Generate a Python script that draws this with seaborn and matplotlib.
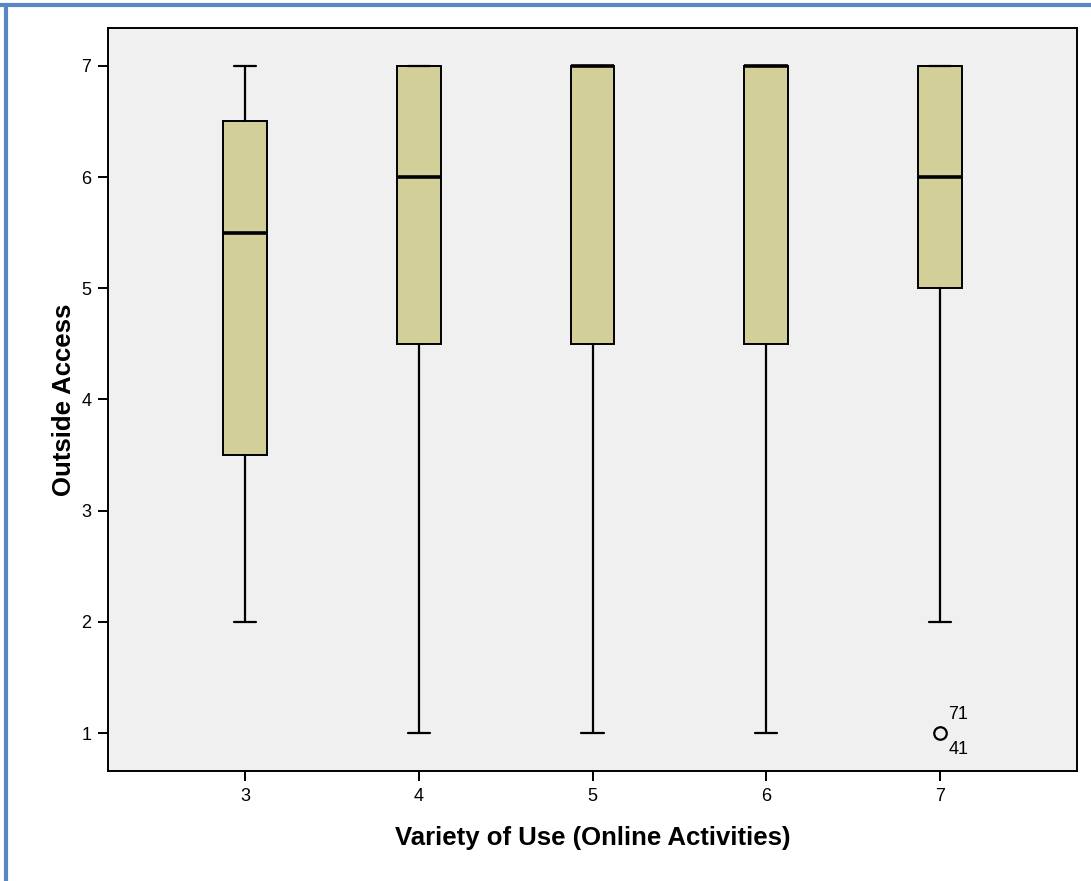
import matplotlib
matplotlib.use("Agg")
import matplotlib.pyplot as plt
from matplotlib.lines import Line2D
import seaborn as sns

# Five-number summaries of Outside Access for each level of Variety of Use
categories = ["3", "4", "5", "6", "7"]
whisker_low = [2.0, 1.0, 1.0, 1.0, 2.0]
q1 = [3.5, 4.5, 4.5, 4.5, 5.0]
median = [5.5, 6.0, 7.0, 7.0, 6.0]
q3 = [6.5, 7.0, 7.0, 7.0, 7.0]
whisker_high = [7.0, 7.0, 7.0, 7.0, 7.0]
outliers = [[], [], [], [], [1.0]]
outlier_ids = [[], [], [], [], ["71", "41"]]

y_ticks = [1, 2, 3, 4, 5, 6, 7]

sns.set_theme(style="ticks")
plt.rcParams["font.family"] = ["Liberation Sans", "DejaVu Sans"]

fig = plt.figure(figsize=(10.91, 8.81), dpi=100)
ax = fig.add_axes([108 / 1091, 1 - 771 / 881, (1077 - 108) / 1091, (771 - 28) / 881])
ax.set_facecolor("#F0F0F0")

stats = []
for i, cat in enumerate(categories):
    stats.append({
        "label": cat,
        "whislo": whisker_low[i],
        "q1": q1[i],
        "med": median[i],
        "q3": q3[i],
        "whishi": whisker_high[i],
        "fliers": outliers[i],
    })

ax.bxp(
    stats,
    positions=range(len(categories)),
    widths=0.253,
    patch_artist=True,
    showfliers=True,
    boxprops=dict(facecolor="#D3CF99", edgecolor="black", linewidth=1.4),
    medianprops=dict(color="black", linewidth=2.6, solid_capstyle="butt"),
    whiskerprops=dict(color="black", linewidth=1.6),
    capprops=dict(color="black", linewidth=1.6),
    capwidths=0.13,
    flierprops=dict(marker="o", markersize=9, markerfacecolor="none",
                    markeredgecolor="black", markeredgewidth=1.6),
)

# Case numbers for the outlying points
for i, ids in enumerate(outlier_ids):
    for j, case in enumerate(ids):
        dy = 0.17 if j == 0 else -0.15
        ax.text(i + 0.05, outliers[i][0] + dy, case, fontsize=13,
                ha="left", va="center", color="black")

ax.set_xlim(-0.79, 4.79)
ax.set_ylim(0.66, 7.34)
ax.set_yticks(y_ticks)
ax.set_yticklabels([str(v) for v in y_ticks])
ax.set_xticks(range(len(categories)))
ax.set_xticklabels(categories)
ax.tick_params(axis="both", labelsize=13, length=7, width=1.4, color="black",
               labelcolor="black", pad=5)

for side in ["top", "right", "bottom", "left"]:
    ax.spines[side].set_visible(True)
    ax.spines[side].set_color("black")
    ax.spines[side].set_linewidth(1.4)

ax.set_xlabel("Variety of Use (Online Activities)", fontsize=18.5,
              fontweight="bold", labelpad=15, color="black")
ax.set_ylabel("Outside Access", fontsize=18.5, fontweight="bold",
              labelpad=4, color="black")

# Blue frame along the top and left edges of the figure
frame = "#5A86C6"
fig.add_artist(Line2D([0, 1], [1 - 5 / 881, 1 - 5 / 881], transform=fig.transFigure,
                      color=frame, linewidth=3))
fig.add_artist(Line2D([6 / 1091, 6 / 1091], [0, 1 - 5 / 881], transform=fig.transFigure,
                      color=frame, linewidth=3))

fig.savefig("out.png", dpi=100, facecolor="white")
